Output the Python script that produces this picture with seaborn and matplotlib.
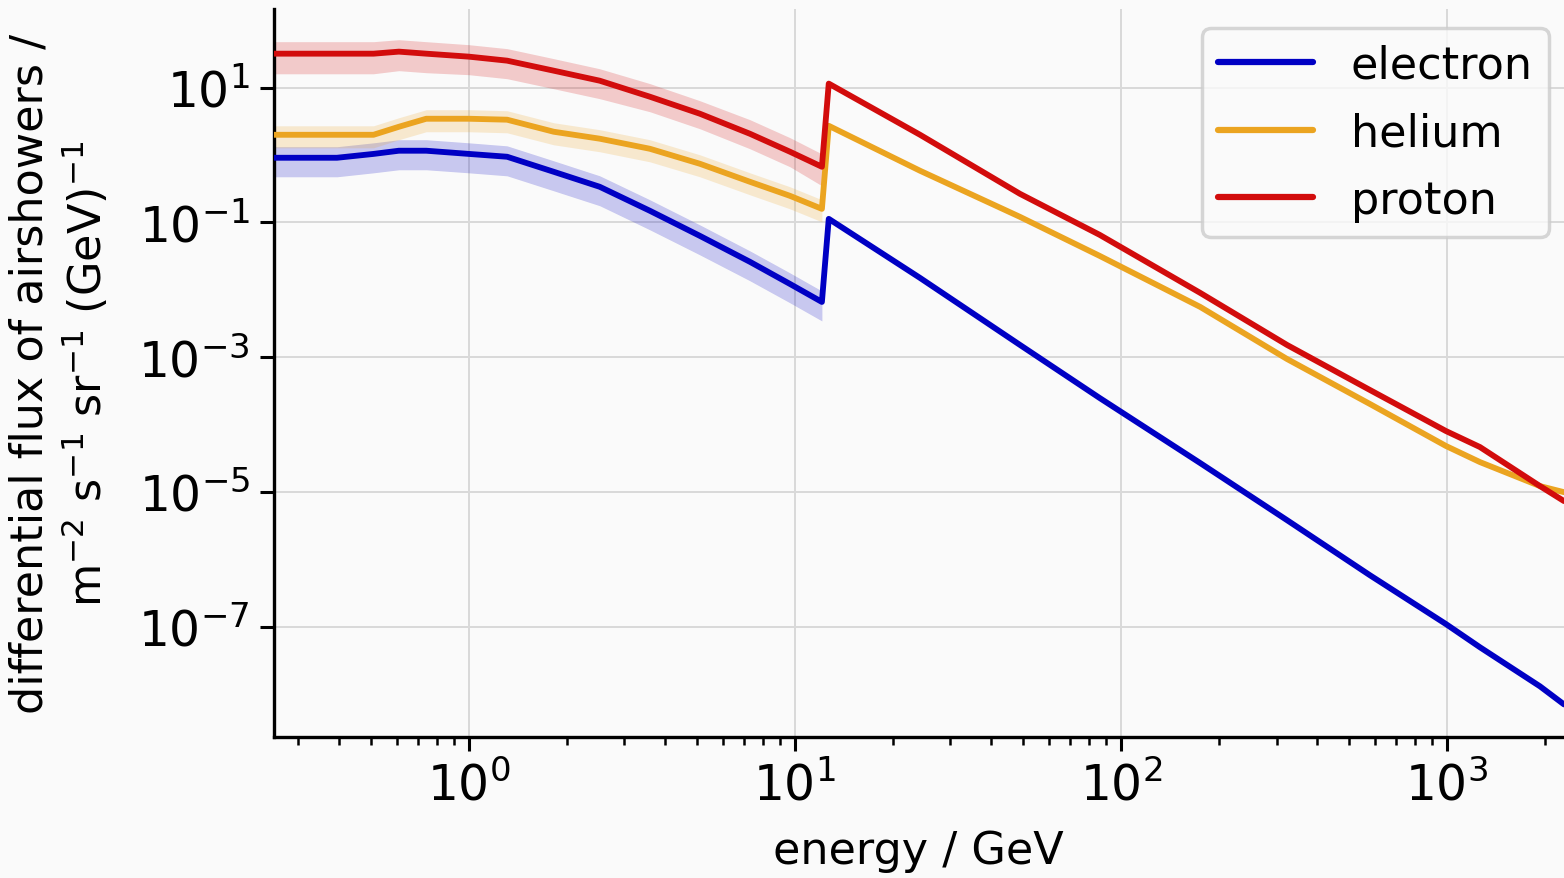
import numpy as np
import pandas as pd
import matplotlib
matplotlib.use("Agg")
import matplotlib.pyplot as plt
import matplotlib.ticker as mticker
import seaborn as sns

# energy grid (GeV), the jump sits between 12.1 and 12.7
energy = [0.252, 0.394, 0.51, 0.61, 0.74, 1.0, 1.31, 1.82, 2.52, 3.59, 5.11, 7.28,
          9.66, 12.1, 12.7, 24.2, 49, 86, 175, 323, 580, 993, 1262, 1928, 2285]

electron_flux = [0.912, 0.912, 1.04, 1.16, 1.16, 1.04, 0.944, 0.565, 0.338, 0.149, 0.0632,
                 0.026, 0.0122, 6.6e-3, 0.113, 0.0150, 1.52e-3, 2.48e-4, 2.68e-5, 3.81e-6,
                 5.8e-7, 1.09e-7, 4.94e-8, 1.30e-8, 7.0e-9]
helium_flux = [2.00, 2.00, 2.00, 2.63, 3.46, 3.46, 3.35, 2.22, 1.75, 1.24, 0.743, 0.401,
               0.248, 0.159, 2.72, 0.585, 0.121, 0.0319, 5.57e-3, 9.4e-4, 2.02e-4, 4.8e-5,
               2.77e-5, 1.22e-5, 9.9e-6]
proton_flux = [32.0, 32.0, 32.0, 34.3, 32.0, 28.9, 25.2, 17.9, 12.7, 7.35, 4.11, 2.07,
               1.12, 0.67, 11.5, 2.00, 0.266, 0.0655, 9.0e-3, 1.52e-3, 3.26e-4, 8.0e-5,
               4.63e-5, 1.22e-5, 7.3e-6]

# uncertainty bands only exist below the jump (first 14 energies)
n_band = 14
electron_lo = [0.476, 0.476, 0.545, 0.605, 0.605, 0.545, 0.492, 0.295, 0.177, 0.0777,
               0.033, 0.0136, 0.0064, 0.00345]
electron_hi = [1.33, 1.33, 1.52, 1.69, 1.69, 1.52, 1.37, 0.822, 0.492, 0.217, 0.092,
               0.0378, 0.0178, 0.0096]
helium_lo = [1.28, 1.28, 1.28, 1.69, 2.22, 2.22, 2.14, 1.42, 1.12, 0.794, 0.476, 0.257,
             0.159, 0.102]
helium_hi = [2.72, 2.72, 2.72, 3.58, 4.71, 4.71, 4.55, 3.02, 2.38, 1.69, 1.01, 0.545,
             0.338, 0.217]
proton_lo = [16.1, 16.1, 16.1, 17.9, 16.7, 15.6, 13.6, 9.66, 6.87, 4.40, 2.46, 1.24,
             0.67, 0.35]
proton_hi = [48.2, 48.2, 48.2, 51.6, 48.2, 43.5, 38.0, 27.0, 19.1, 11.5, 6.41, 3.35,
             1.81, 1.04]

species = ["electron", "helium", "proton"]
colors = {"electron": "#0000c4", "helium": "#eba420", "proton": "#d20c0c"}

df = pd.concat([
    pd.DataFrame({"energy": energy, "flux": electron_flux, "particle": "electron"}),
    pd.DataFrame({"energy": energy, "flux": helium_flux, "particle": "helium"}),
    pd.DataFrame({"energy": energy, "flux": proton_flux, "particle": "proton"}),
], ignore_index=True)

bands = {
    "electron": (electron_lo, electron_hi),
    "helium": (helium_lo, helium_hi),
    "proton": (proton_lo, proton_hi),
}

sns.set_theme(style="ticks")
plt.rcParams["font.family"] = ["DejaVu Sans"]
plt.rcParams["mathtext.default"] = "regular"
for key in ["text.color", "axes.labelcolor", "xtick.color", "ytick.color"]:
    plt.rcParams[key] = "black"

fig = plt.figure(figsize=(15.64, 8.79), dpi=100, facecolor="#fafafa")
ax = fig.add_axes([0.175, 0.160, 0.825, 0.829])
ax.set_facecolor("#fafafa")

for name in species:
    lo, hi = bands[name]
    ax.fill_between(energy[:n_band], lo, hi, color=colors[name], alpha=0.2,
                    linewidth=0, zorder=1)

sns.lineplot(data=df, x="energy", y="flux", hue="particle", hue_order=species,
             palette=colors, linewidth=4.2, sort=False, estimator=None, ax=ax, zorder=3)

ax.set_xscale("log")
ax.set_yscale("log")
ax.set_xlim(0.252, 2285)
ax.set_ylim(2.27e-9, 149)

ax.set_yticks([1e1, 1e-1, 1e-3, 1e-5, 1e-7])
ax.yaxis.set_major_formatter(mticker.LogFormatterSciNotation())
ax.yaxis.set_minor_locator(mticker.NullLocator())
ax.xaxis.set_major_locator(mticker.LogLocator(base=10, numticks=10))
ax.xaxis.set_minor_locator(mticker.LogLocator(base=10, subs=np.arange(2, 10), numticks=20))
ax.xaxis.set_minor_formatter(mticker.NullFormatter())

ax.grid(True, which="major", color="#d9d9d9", linewidth=1.4, zorder=0)
ax.set_axisbelow(True)
sns.despine(ax=ax)
for side in ["left", "bottom"]:
    ax.spines[side].set_color("black")
    ax.spines[side].set_linewidth(2.4)

ax.tick_params(axis="both", which="major", labelsize=35, length=10, width=2.2, pad=7)
ax.tick_params(axis="x", which="minor", length=6, width=1.8)

ax.set_xlabel("energy / GeV", fontsize=32, labelpad=14)
ax.set_ylabel("differential flux of airshowers /\n"
              r"$m^{-2}\ s^{-1}\ sr^{-1}\ (GeV)^{-1}$", fontsize=32, labelpad=20)

leg = ax.legend(loc="upper right", fontsize=32, frameon=True, fancybox=True,
                handlelength=2.15, handletextpad=0.85, borderpad=0.35,
                labelspacing=0.55, borderaxespad=0, bbox_to_anchor=(0.988, 0.973))
leg.get_frame().set_edgecolor("#cccccc")
leg.get_frame().set_linewidth(2.5)
leg.get_frame().set_facecolor("#fafafa")
for line in leg.get_lines():
    line.set_linewidth(4.5)

fig.savefig("out.png", dpi=100, facecolor=fig.get_facecolor())
